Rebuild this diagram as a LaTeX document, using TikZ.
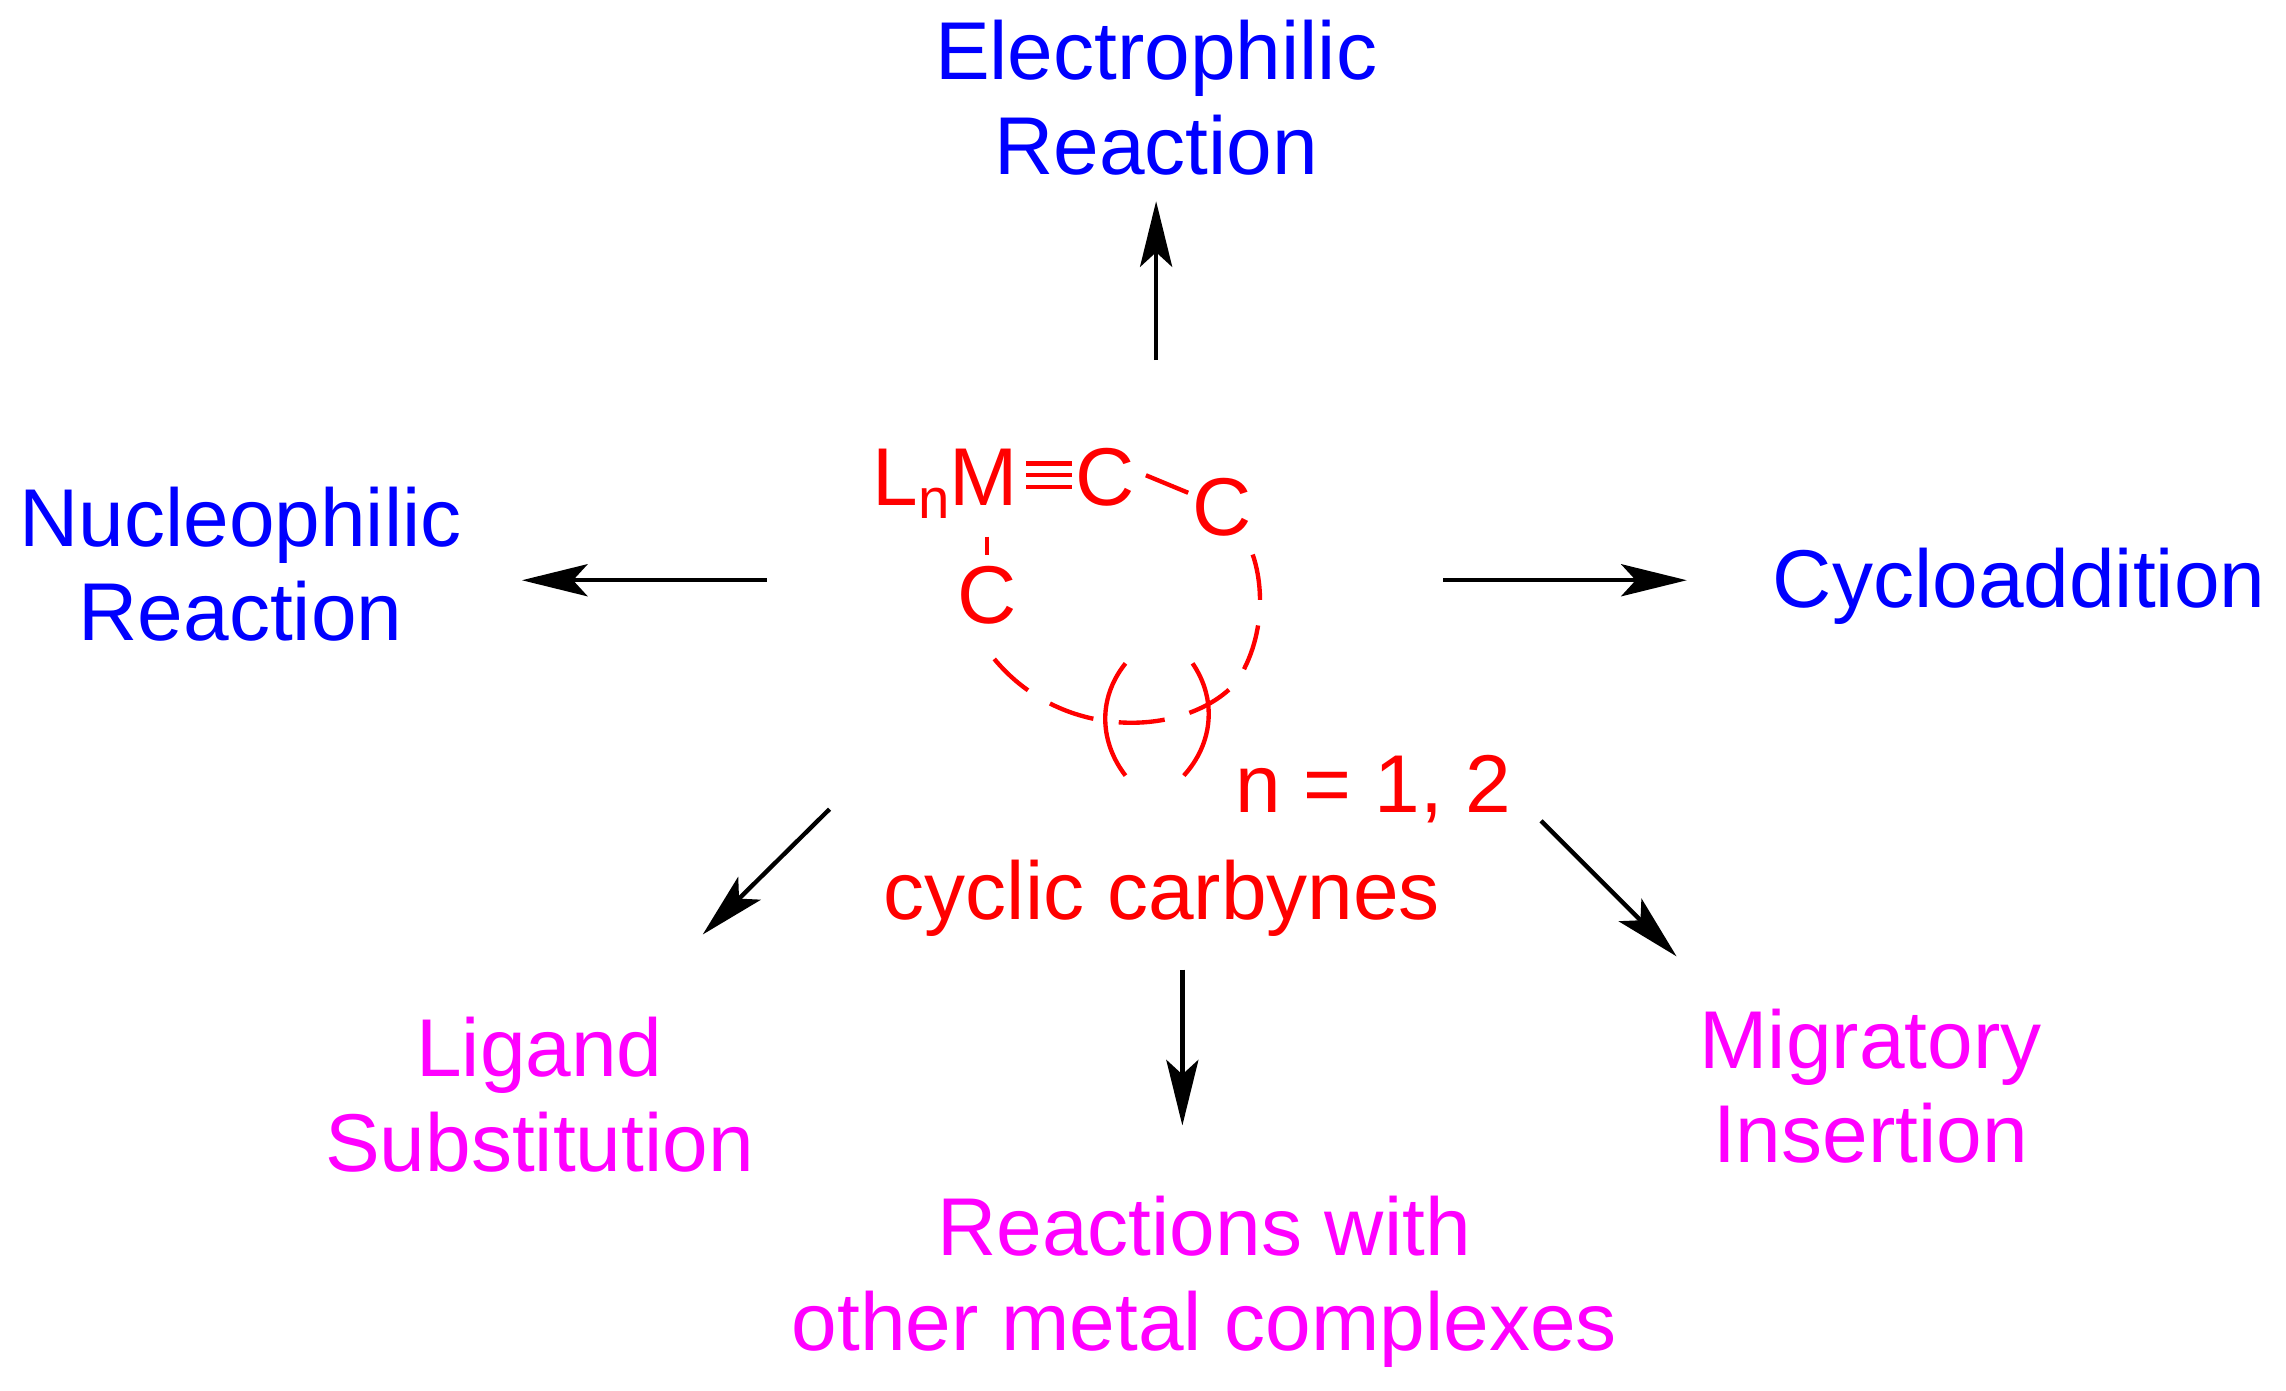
\documentclass[tikz,border=0pt]{standalone}
\usepackage{fontspec}
\setmainfont{Liberation Sans}
\usetikzlibrary{arrows.meta}
\definecolor{blu}{RGB}{0,0,255}
\definecolor{mag}{RGB}{255,0,255}
\definecolor{rd}{RGB}{255,0,0}
\begin{document}
\begin{tikzpicture}[x=0.01cm,y=-0.01cm,
  lbl/.style={font=\fontsize{16}{18.5}\selectfont,align=center,inner sep=0pt},
  arr/.style={line width=0.85pt,-{Stealth[length=4.5mm,width=2.2mm,inset=1mm]}},
  chem/.style={font=\fontsize{16}{18.5}\selectfont,text=rd,inner sep=0pt}]
\useasboundingbox (0,0) rectangle (1568,954);
\node[lbl,text=blu] (el) at (793,67) {Electrophilic\\Reaction};
\node[lbl,text=blu] (nu) at (165,387) {Nucleophilic\\Reaction};
\node[lbl,text=blu] (cy) at (1385,402) {Cycloaddition};
\node[lbl,text=mag] (li) at (370,751) {Ligand\\Substitution};
\node[lbl,text=mag] (re) at (826,879) {Reactions with\\other metal complexes};
\node[lbl,text=mag] (mi) at (1283,745) {Migratory\\Insertion};
\node[lbl,text=rd] (cc) at (797,616) {cyclic carbynes};
\node[lbl,text=rd] (nn) at (942,541) {n = 1, 2};
\coordinate (a1) at (793,247); \coordinate (b1) at (793,138);
\coordinate (a2) at (526,398); \coordinate (b2) at (358,398);
\coordinate (a3) at (990,398); \coordinate (b3) at (1157,398);
\coordinate (a4) at (569,555); \coordinate (b4) at (482,641);
\coordinate (a5) at (811,665); \coordinate (b5) at (811,772);
\coordinate (a6) at (1057,563); \coordinate (b6) at (1150,656);
\foreach \i in {1,...,6} \draw[arr] (a\i) -- (b\i);
% structure
\node[chem,anchor=base west] (lm) at (598,347) {L\raisebox{-0.3ex}{\fontsize{11}{12}\selectfont n}M};
\node[chem,anchor=base] (c1) at (758,347) {C};
\node[chem,anchor=base] (c2) at (838,367) {C};
\node[chem,anchor=base] (c3) at (677,428) {C};
\begin{scope}[rd,line width=0.85pt]
\draw (704,318) -- (735,318);
\draw (704,326) -- (735,326);
\draw (704,334) -- (735,334);
\draw (786,326) -- (815,338);
\draw (677,368) -- (677,381);
\draw[dashed,dash pattern=on 9pt off 5pt] (682,452) .. controls (730,510) and (815,505) .. (848,468) .. controls (870,435) and (868,390) .. (852,365);
\draw (772,455) .. controls (752,480) and (755,510) .. (772,532);
\draw (818,455) .. controls (835,480) and (832,510) .. (812,532);
\end{scope}
\end{tikzpicture}
\end{document}
